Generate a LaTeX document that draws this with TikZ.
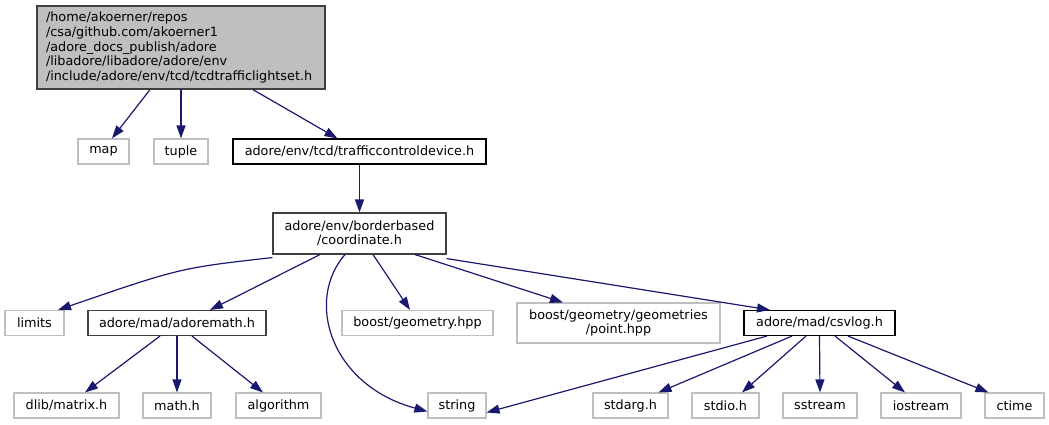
\documentclass[tikz,border=0pt]{standalone}
\usepackage{fontspec}
\setmainfont{DejaVu Sans}
\usetikzlibrary{arrows.meta}
\definecolor{edgeblue}{HTML}{191970}
\definecolor{boxgray}{HTML}{BFBFBF}
\definecolor{rootfill}{HTML}{BFBFBF}
\definecolor{rootline}{HTML}{404040}
\tikzset{
  file/.style={draw=black, line width=1.1pt, fill=white, inner sep=0pt,
    font=\fontsize{12.8}{14}\selectfont, align=center},
  extfile/.style={file, draw=boxgray},
  edge/.style={draw=edgeblue, line width=1.2pt,
    -{Triangle[length=13pt, width=9pt]}},
}
\begin{document}
\begin{tikzpicture}[x=1pt, y=-1pt]
\useasboundingbox (0,0) rectangle (1049,424);
% root header
\node[file, draw=rootline, fill=rootfill, line width=1.3pt, align=left,
  text width=270pt, minimum width=288pt, minimum height=83pt,
  font=\fontsize{12.8}{14.8}\selectfont] (root) at (181,47.5)
  {/home/akoerner/repos\\/csa/github.com/akoerner1\\/adore\_docs\_publish/adore\\/libadore/libadore/adore/env\\/include/adore/env/tcd/tcdtrafficlightset.h};
% first level
\node[extfile, minimum width=51pt, minimum height=25pt] (map) at (103.5,151.5) {map};
\node[extfile, minimum width=54pt, minimum height=25pt] (tuple) at (181,151.5) {tuple};
\node[file, minimum width=253pt, minimum height=25pt] (tcd) at (359.5,151.5) {adore/env/tcd/trafficcontroldevice.h};
% coordinate header
\node[file, draw=rootline, minimum width=173pt, minimum height=41pt] (coord) at (359.5,233.5) {adore/env/borderbased\\/coordinate.h};
% third level
\node[extfile, minimum width=59pt, minimum height=25pt] (limits) at (34.5,323) {limits};
\node[file, draw=rootline, minimum width=178pt, minimum height=25pt] (amath) at (177,323) {adore/mad/adoremath.h};
\node[extfile, minimum width=151pt, minimum height=25pt] (bgeom) at (417.5,323) {boost/geometry.hpp};
\node[extfile, minimum width=203pt, minimum height=40pt] (bpoint) at (618.5,323) {boost/geometry/geometries\\/point.hpp};
\node[file, minimum width=151pt, minimum height=25pt] (csvlog) at (819.5,323) {adore/mad/csvlog.h};
% bottom level
\node[extfile, minimum width=105pt, minimum height=25pt] (dlib) at (66.5,405.5) {dlib/matrix.h};
\node[extfile, minimum width=68pt, minimum height=25pt] (mathh) at (177,405.5) {math.h};
\node[extfile, minimum width=85pt, minimum height=25pt] (algo) at (278.5,405.5) {algorithm};
\node[extfile, minimum width=58pt, minimum height=25pt] (string) at (457,405.5) {string};
\node[extfile, minimum width=75pt, minimum height=25pt] (stdarg) at (630.5,405.5) {stdarg.h};
\node[extfile, minimum width=67pt, minimum height=25pt] (stdio) at (725.5,405.5) {stdio.h};
\node[extfile, minimum width=74pt, minimum height=25pt] (sstream) at (820,405.5) {sstream};
\node[extfile, minimum width=80pt, minimum height=25pt] (iostream) at (921,405.5) {iostream};
\node[extfile, minimum width=59pt, minimum height=25pt] (ctime) at (1014.5,405.5) {ctime};
% includes of the root header
\draw[edge] ([xshift=-31pt]root.south) -- ([xshift=8.5pt]map.north);
\draw[edge] (root.south) -- (tuple.north);
\draw[edge] ([xshift=72pt]root.south) -- ([xshift=-22pt]tcd.north);
\draw[edge] (tcd.south) -- (coord.north);
% includes of coordinate.h
\draw[edge] ([yshift=-3pt]coord.south west) .. controls (180,268) .. ([xshift=23.5pt]limits.north);
\draw[edge] ([xshift=-39.5pt]coord.south) -- ([xshift=33pt]amath.north);
\draw[edge] ([xshift=-14.5pt]coord.south) .. controls (305,300) and (330,385) .. ([yshift=-6pt]string.west);
\draw[edge] ([xshift=13.5pt]coord.south) -- ([xshift=-7.5pt]bgeom.north);
\draw[edge] ([xshift=55.5pt]coord.south) -- ([xshift=-55.5pt]bpoint.north);
\draw[edge] ([yshift=-4pt]coord.south east) -- ([xshift=-49.5pt]csvlog.north);
% includes of adoremath.h
\draw[edge] ([xshift=-17pt]amath.south) -- ([xshift=18.5pt]dlib.north);
\draw[edge] (amath.south) -- (mathh.north);
\draw[edge] ([xshift=15pt]amath.south) -- ([xshift=-15.5pt]algo.north);
% includes of csvlog.h
\draw[edge] ([xshift=-52.5pt]csvlog.south) -- ([yshift=-7pt]string.east);
\draw[edge] ([xshift=-27.5pt]csvlog.south) -- ([xshift=28pt]stdarg.north);
\draw[edge] ([xshift=-13.5pt]csvlog.south) -- ([xshift=16.5pt]stdio.north);
\draw[edge] (csvlog.south) -- (sstream.north);
\draw[edge] ([xshift=15.5pt]csvlog.south) -- ([xshift=-16pt]iostream.north);
\draw[edge] ([xshift=28.5pt]csvlog.south) -- ([xshift=-26pt]ctime.north);
\end{tikzpicture}
\end{document}
